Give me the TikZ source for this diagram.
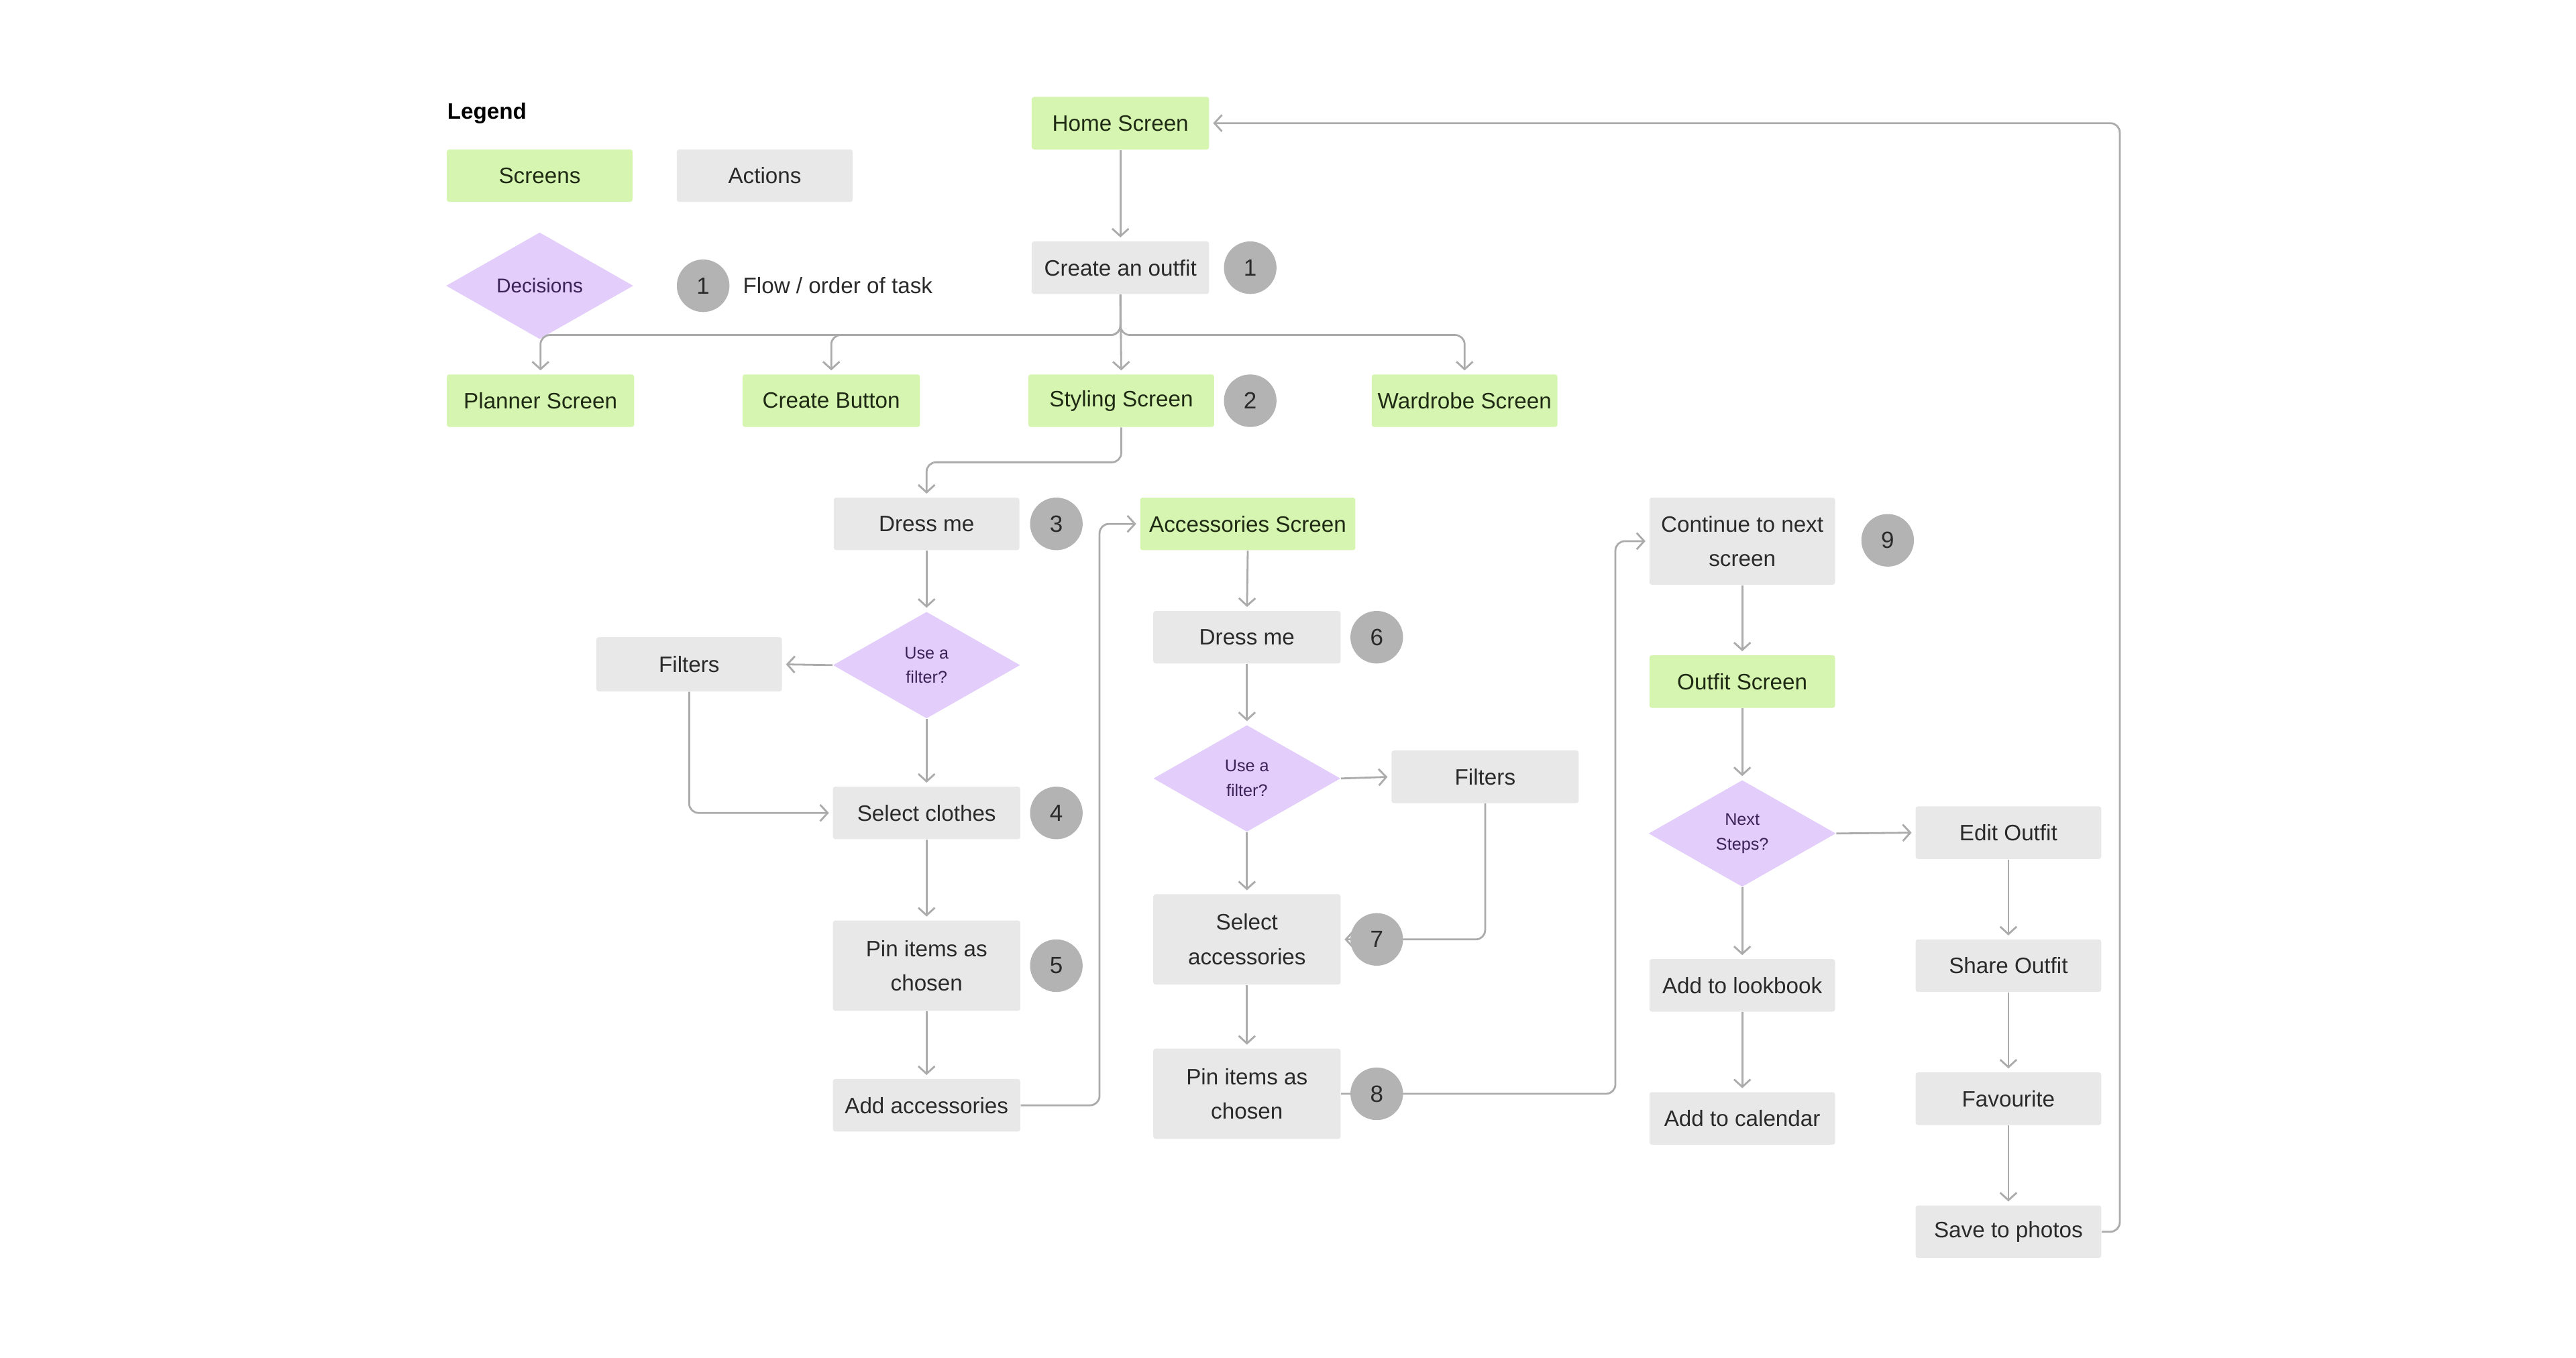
\documentclass[tikz,border=0pt]{standalone}
\usepackage{fontspec}
\setmainfont{Liberation Sans}
\usetikzlibrary{shapes.geometric,arrows.meta,calc}
\definecolor{scr}{HTML}{D6F5B0}
\definecolor{act}{HTML}{E8E8E8}
\definecolor{dec}{HTML}{E2CDFB}
\definecolor{num}{HTML}{B3B3B3}
\definecolor{lin}{HTML}{ABABAB}
\definecolor{txt}{HTML}{2A2A2A}
\definecolor{stxt}{HTML}{1F2A14}
\definecolor{dtxt}{HTML}{3B2358}
\begin{document}
\begin{tikzpicture}[x=0.024615cm,y=-0.024615cm,
 base/.style={rectangle, rounded corners=1pt, inner sep=0pt, align=center, text=txt, font=\fontsize{9.5}{14.7}\selectfont},
 scrbox/.style={base, fill=scr, text=stxt},
 actbox/.style={base, fill=act},
 sz/.style 2 args={minimum width=#1*0.024615cm, minimum height=#2*0.024615cm},
 decbox/.style={diamond, fill=dec, inner sep=0pt, align=center, text=dtxt, font=\fontsize{7.2}{10.5}\selectfont, minimum width=114*0.024615cm, minimum height=65*0.024615cm},
 numc/.style={circle, fill=num, inner sep=0pt, minimum size=32*0.024615cm, text=txt, font=\fontsize{10}{12}\selectfont},
 conn/.style={draw=lin, line width=0.8pt, rounded corners=4pt, -{Straight Barb[length=3.2pt,width=7pt]}, shorten >=1.5pt}
]
\useasboundingbox (0,0) rectangle (1568,826.6);
% legend
\node[anchor=west, inner sep=0pt, text=black, font=\bfseries\fontsize{9.5}{11}\selectfont] (lg) at (272,69) {Legend};
\node[scrbox, sz={113}{32}] (lscr) at (328.5,107) {Screens};
\node[actbox, sz={107}{32}] (lact) at (465.5,107) {Actions};
\node[decbox, font=\fontsize{8.5}{10}\selectfont] (ldec) at (328.5,174) {Decisions};
\node[numc] (ln) at (428,174) {1};
\node[anchor=west, inner sep=0pt, text=txt, font=\fontsize{9.5}{11}\selectfont] (lflow) at (452,174) {Flow / order of task};
% main nodes
\node[scrbox, sz={108}{32}] (hs) at (682,75) {Home Screen};
\node[actbox, sz={108}{32}] (co) at (682,163) {Create an outfit};
\node[scrbox, sz={114}{32}] (pl) at (329,244) {Planner Screen};
\node[scrbox, sz={108}{32}] (cb) at (506,244) {Create Button};
\node[scrbox, sz={113}{32}] (st) at (682.5,244) {Styling Screen};
\node[scrbox, sz={113}{32}] (wr) at (891.5,244) {Wardrobe Screen};
\node[actbox, sz={113}{32}] (dm1) at (564,319) {Dress me};
\node[decbox] (d1) at (564,405) {Use a\\filter?};
\node[actbox, sz={113}{33}] (f1) at (419.5,404.5) {Filters};
\node[actbox, sz={114}{32}] (sc) at (564,495) {Select clothes};
\node[actbox, sz={114}{55}] (pi1) at (564,588) {Pin items as\\chosen};
\node[actbox, sz={114}{32}] (aa) at (564,673) {Add accessories};
\node[scrbox, sz={131}{32}] (as) at (759.5,319) {Accessories Screen};
\node[actbox, sz={114}{32}] (dm2) at (759,388) {Dress me};
\node[decbox] (d2) at (759,474) {Use a\\filter?};
\node[actbox, sz={114}{32}] (f2) at (904,473) {Filters};
\node[actbox, sz={114}{55}] (sa) at (759,572) {Select\\accessories};
\node[actbox, sz={114}{55}] (pi2) at (759,666) {Pin items as\\chosen};
\node[actbox, sz={113}{53}] (cn) at (1060.5,329.5) {Continue to next\\screen};
\node[scrbox, sz={113}{32}] (os) at (1060.5,415) {Outfit Screen};
\node[decbox] (d3) at (1060.5,507.5) {Next\\Steps?};
\node[actbox, sz={113}{32}] (eo) at (1222.5,507) {Edit Outfit};
\node[actbox, sz={113}{32}] (lb) at (1060.5,600) {Add to lookbook};
\node[actbox, sz={113}{32}] (ca) at (1060.5,681) {Add to calendar};
\node[actbox, sz={113}{32}] (so) at (1222.5,588) {Share Outfit};
\node[actbox, sz={113}{32}] (fv) at (1222.5,669) {Favourite};
\node[actbox, sz={113}{32}] (sp) at (1222.5,750) {Save to photos};
% connectors
\coordinate (br) at (682,204);
\draw[conn] (hs.south) -- (co.north);
\draw[conn] (co.south) |- (pl.north |- br) -- (pl.north);
\draw[conn] (co.south) |- (cb.north |- br) -- (cb.north);
\draw[conn] (co.south) |- (wr.north |- br) -- (wr.north);
\draw[conn] (co.south) -- (st.north);
\draw[conn] (st.south) |- ($(st.south)!.5!(dm1.north)$) -| (dm1.north);
\draw[conn] (dm1.south) -- (d1.north);
\draw[conn] (d1.west) -- (f1.east);
\draw[conn] (d1.south) -- (sc.north);
\draw[conn] (f1.south) |- (sc.west);
\draw[conn] (sc.south) -- (pi1.north);
\draw[conn] (pi1.south) -- (aa.north);
\draw[conn] (aa.east) -- ++(48,0) |- (as.west);
\draw[conn] (as.south) -- (dm2.north);
\draw[conn] (dm2.south) -- (d2.north);
\draw[conn] (d2.east) -- (f2.west);
\draw[conn] (d2.south) -- (sa.north);
\draw[conn] (f2.south) |- (sa.east);
\draw[conn] (sa.south) -- (pi2.north);
\draw[conn] (pi2.east) -- ++(167,0) |- (cn.west);
\draw[conn] (cn.south) -- (os.north);
\draw[conn] (os.south) -- (d3.north);
\draw[conn] (d3.east) -- (eo.west);
\draw[conn] (d3.south) -- (lb.north);
\draw[conn] (lb.south) -- (ca.north);
\draw[conn] (eo.south) -- (so.north);
\draw[conn] (so.south) -- (fv.north);
\draw[conn] (fv.south) -- (sp.north);
\draw[conn] (sp.east) -- ++(11,0) |- (hs.east);
% number circles
\node[numc] (n1) at (761,163) {1};
\node[numc] (n2) at (761,244) {2};
\node[numc] (n3) at (643,319) {3};
\node[numc] (n4) at (643,495) {4};
\node[numc] (n5) at (643,588) {5};
\node[numc] (n6) at (838,388) {6};
\node[numc] (n7) at (838,572) {7};
\node[numc] (n8) at (838,666) {8};
\node[numc] (n9) at (1149,329) {9};
\end{tikzpicture}
\end{document}
